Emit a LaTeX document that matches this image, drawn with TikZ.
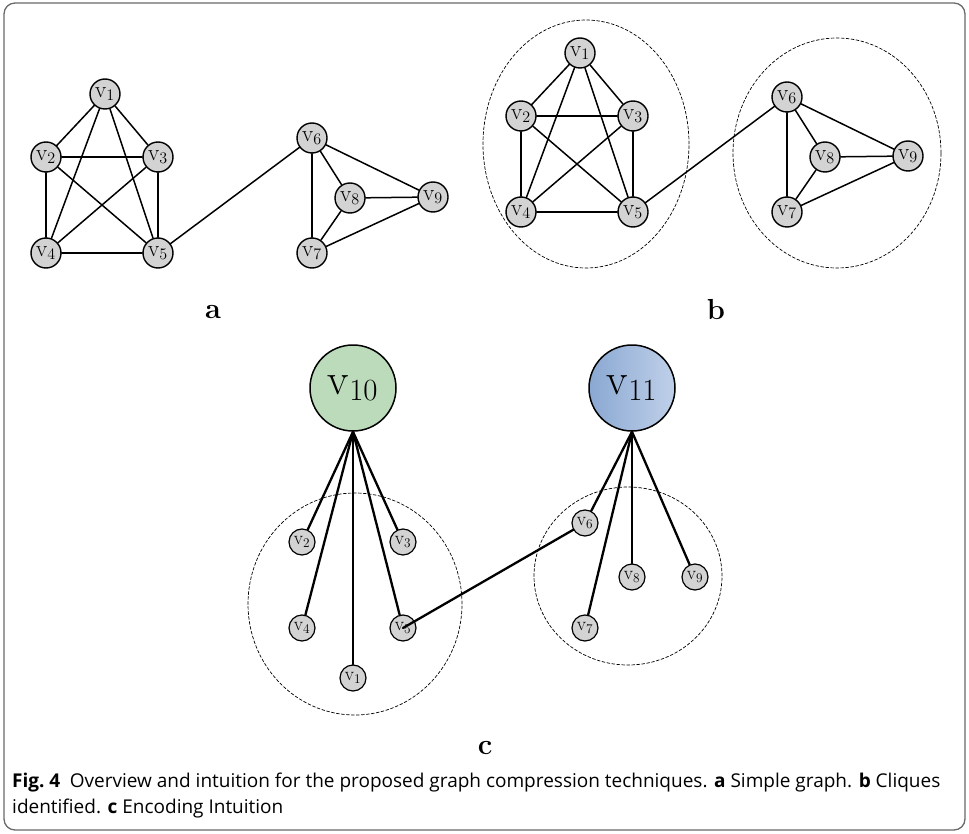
\RequirePackage{fix-cm}
\documentclass[tikz,border=0pt]{standalone}
\usepackage{fontspec}
\newfontfamily\capfont{Open Sans}
\usetikzlibrary{positioning}

\definecolor{nodegray}{RGB}{211,211,211}
\definecolor{cliquegreen}{RGB}{188,219,186}
\definecolor{bluedark}{RGB}{138,168,210}
\definecolor{bluelight}{RGB}{192,208,233}
\definecolor{framegray}{RGB}{105,105,105}

\begin{document}
\begin{tikzpicture}[x=1pt, y=-1pt, line join=round, line cap=round,
    vert/.style={circle, draw, line width=1.4pt, fill=nodegray, minimum size=30pt, inner sep=0pt, font=\fontsize{23}{23}\selectfont},
    smallvert/.style={vert, line width=1.2pt, minimum size=26pt, font=\fontsize{19}{19}\selectfont},
    supervert/.style={circle, draw, line width=1.5pt, minimum size=86pt, inner sep=0pt, font=\fontsize{44}{44}\selectfont},
    gedge/.style={line width=1.5pt},
    glink/.style={line width=2.3pt},
    clique/.style={draw, dash pattern=on 3pt off 2pt, line width=0.7pt},
    panel/.style={font=\fontsize{29}{29}\selectfont\bfseries}]
  \useasboundingbox (0,0) rectangle (969,834);
  \draw[framegray, line width=1.3pt, rounded corners=11pt] (4,3) rectangle (965,830);

  % a and b: the same graph, b shifted
  \foreach \p/\dx/\dy in {a/0/0, b/475/-41} {
    \begin{scope}[shift={(\dx,\dy)}]
      \node[vert] (\p1) at (105,94) {$\mathrm{v}_1$};
      \node[vert] (\p2) at (46,157) {$\mathrm{v}_2$};
      \node[vert] (\p3) at (158,157) {$\mathrm{v}_3$};
      \node[vert] (\p4) at (46,253) {$\mathrm{v}_4$};
      \node[vert] (\p5) at (158,253) {$\mathrm{v}_5$};
      \node[vert] (\p6) at (312,138) {$\mathrm{v}_6$};
      \node[vert] (\p7) at (312,253) {$\mathrm{v}_7$};
      \node[vert] (\p8) at (350,198) {$\mathrm{v}_8$};
      \node[vert] (\p9) at (433,197) {$\mathrm{v}_9$};
    \end{scope}
    \foreach \s/\t in {1/2,1/3,1/4,1/5,2/3,2/4,2/5,3/4,3/5,4/5,6/7,6/8,6/9,7/8,7/9,8/9,5/6}
      \draw[gedge] (\p\s) -- (\p\t);
  }
  \node[panel] (labela) at (213,312) {a};
  \node[panel] (labelb) at (716,310) {b};

  \draw[clique] (586,144) ellipse [x radius=103pt, y radius=124pt];
  \draw[clique] (837,153) ellipse [x radius=104pt, y radius=115pt];

  % c
  \draw[clique] (355,604) ellipse [x radius=107pt, y radius=111pt];
  \draw[clique] (628,576) ellipse [x radius=94pt, y radius=89pt];

  \node[supervert, fill=cliquegreen] (v10) at (353,388) {$\mathrm{v}_{10}$};
  \node[supervert, left color=bluedark, right color=bluelight] (v11) at (632,388) {$\mathrm{v}_{11}$};

  \node[smallvert] (c1) at (353,678) {$\mathrm{v}_1$};
  \node[smallvert] (c2) at (302,542) {$\mathrm{v}_2$};
  \node[smallvert] (c3) at (403,542) {$\mathrm{v}_3$};
  \node[smallvert] (c4) at (302,628) {$\mathrm{v}_4$};
  \node[smallvert] (c5) at (403,628) {$\mathrm{v}_5$};
  \node[smallvert] (c6) at (585,523) {$\mathrm{v}_6$};
  \node[smallvert] (c7) at (585,628) {$\mathrm{v}_7$};
  \node[smallvert] (c8) at (632,577) {$\mathrm{v}_8$};
  \node[smallvert] (c9) at (695,577) {$\mathrm{v}_9$};

  \foreach \k in {1,...,5}
    \draw[glink] (v10.south) -- (c\k);
  \foreach \k in {6,...,9}
    \draw[glink] (v11.south) -- (c\k);
  \draw[glink] (c6) -- (c5.center);

  \node[panel] (labelc) at (485,748) {c};

  \node[anchor=base west, inner sep=0pt, font=\capfont\fontsize{19}{19}\selectfont] (cap1) at (12,787)
    {\textbf{Fig.~4}\enspace Overview and intuition for the proposed graph compression techniques. \textbf{a} Simple graph. \textbf{b} Cliques};
  \node[anchor=base west, inner sep=0pt, font=\capfont\fontsize{19}{19}\selectfont] (cap2) at (12,813)
    {identified. \textbf{c} Encoding Intuition};
\end{tikzpicture}
\end{document}
